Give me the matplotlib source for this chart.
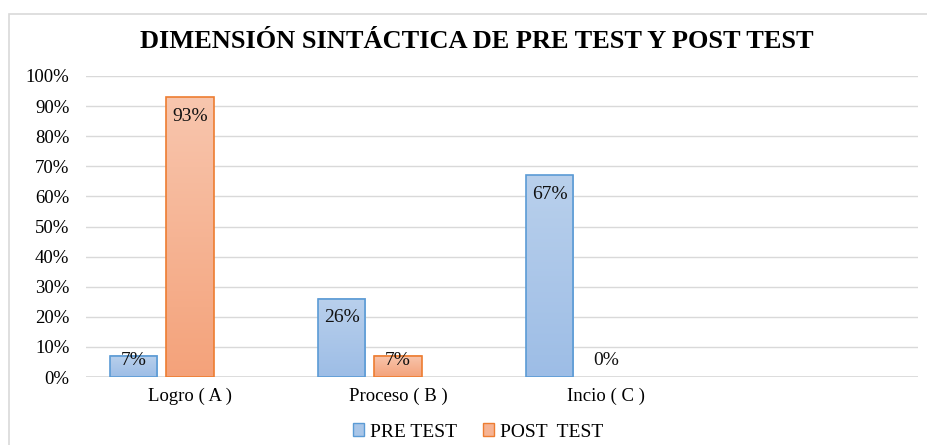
import matplotlib
matplotlib.use("Agg")
import matplotlib.pyplot as plt
import numpy as np
from matplotlib.colors import LinearSegmentedColormap
from matplotlib.patches import Rectangle, Patch

plt.rcParams['font.family'] = ['Liberation Serif', 'DejaVu Serif']

categories = ["Logro ( A )", "Proceso ( B )", "Incio ( C )", ""]
pre_test = [0.07, 0.26, 0.67, np.nan]
post_test = [0.93, 0.07, 0.00, np.nan]
pre_labels = ["7%", "26%", "67%", None]
post_labels = ["93%", "7%", "0%", None]
yticks = np.arange(0, 1.01, 0.1)
ytick_labels = [f"{int(round(t*100))}%" for t in yticks]

W, H = 927, 445
fig = plt.figure(figsize=(W/100, H/100), dpi=100)
fig.patches.append(Rectangle((9/W, -0.1), 1.2, 1 - 14/H + 0.1, transform=fig.transFigure,
                             fill=False, edgecolor="#d9d9d9", linewidth=1.2))
ax = fig.add_axes([86/W, (H-377)/H, (918-86)/W, (377-76)/H])

x = np.arange(len(categories))
bw = 0.226
step = 0.27

pre_cmap = LinearSegmentedColormap.from_list("pre", ["#9dbde6", "#b9d0ec"])
post_cmap = LinearSegmentedColormap.from_list("post", ["#f4a27a", "#f8c6ae"])
grad = np.linspace(0, 1, 256).reshape(-1, 1)

def draw(vals, labels, offset, cmap, edge):
    bars = ax.bar(x + offset, np.nan_to_num(vals), bw, facecolor="none", edgecolor=edge,
                  linewidth=1.2, zorder=3)
    for b, v, lab in zip(bars, vals, labels):
        h = b.get_height()
        if h <= 0:
            b.set_visible(False)
        else:
            ax.imshow(grad, cmap=cmap, origin="lower", aspect="auto",
                      extent=(b.get_x(), b.get_x() + b.get_width(), 0, h), zorder=2)
        if lab is None:
            continue
        ax.text(b.get_x() + b.get_width()/2, max(h - 0.063, 0.056), lab,
                ha="center", va="center", fontsize=14, color="#111111", zorder=4)

draw(pre_test, pre_labels, -step, pre_cmap, "#5b9bd5")
draw(post_test, post_labels, 0.0, post_cmap, "#ed7d31")

ax.set_xlim(-0.5, len(categories) - 0.5)
ax.set_ylim(0, 1.0)
ax.set_yticks(yticks)
ax.set_yticklabels(ytick_labels, fontsize=13.5)
ax.set_xticks(x)
ax.set_xticklabels(categories, fontsize=13.5)
ax.tick_params(axis="y", length=0, pad=12)
ax.tick_params(axis="x", length=0, pad=8)
ax.grid(axis="y", color="#d9d9d9", linewidth=1.0, zorder=0)
for s in ax.spines.values():
    s.set_visible(False)
ax.axhline(0, color="#d9d9d9", linewidth=1.2, zorder=1)

fig.text(477/W, 1 - 42/H, "DIMENSIÓN SINTÁCTICA DE PRE TEST Y POST TEST",
         ha="center", va="center", fontsize=19, fontweight="bold")

handles = [Patch(facecolor="#a9c6e8", edgecolor="#5b9bd5", label="PRE TEST"),
           Patch(facecolor="#f6b393", edgecolor="#ed7d31", label="POST  TEST")]
fig.legend(handles=handles, loc="center", bbox_to_anchor=(478/W, 1 - 432/H), ncol=2,
           frameon=False, fontsize=14, handlelength=0.6, handleheight=0.6,
           handletextpad=0.3, columnspacing=1.3)

fig.savefig("out.png", dpi=100)
